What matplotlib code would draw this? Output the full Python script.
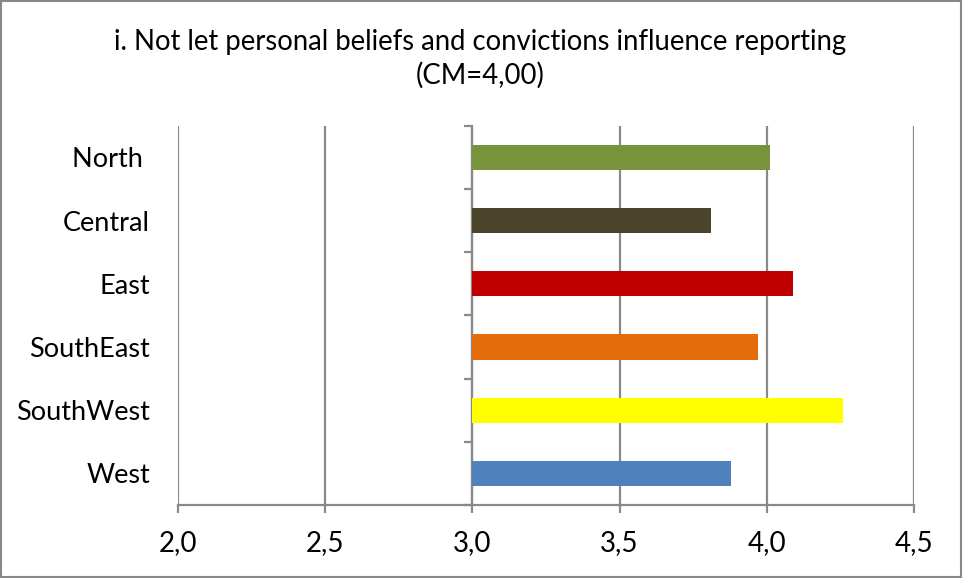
import numpy as np
import matplotlib.pyplot as plt
from matplotlib.patches import Rectangle

plt.rcParams['font.family'] = ['Lato', 'DejaVu Sans']

regions = ["North ", "Central", "East", "SouthEast", "SouthWest", "West"]
means = [4.01, 3.81, 4.09, 3.97, 4.26, 3.88]
colors = ["#77933C", "#4A452A", "#C00000", "#E46C0A", "#FFFF00", "#4F81BD"]
xticks = [2.0, 2.5, 3.0, 3.5, 4.0, 4.5]
title = "i. Not let personal beliefs and convictions influence reporting\n(CM=4,00)"
base = 3.0

fig = plt.figure(figsize=(9.63, 5.78), dpi=100)
ax = fig.add_axes([0.1848, 0.1263, 0.7643, 0.6562])

pos = np.arange(len(regions))[::-1]
ax.barh(pos, np.array(means) - base, left=base, height=0.4, color=colors, zorder=3)

grid_c = "#898989"
ax.set_xlim(2.0, 4.5)
ax.set_ylim(-0.5, len(regions) - 0.5)
ax.set_xticks(xticks)
ax.set_xticklabels([f"{t:.1f}".replace(".", ",") for t in xticks], fontsize=20)
ax.xaxis.grid(True, color=grid_c, linewidth=1.6, zorder=0)
ax.set_yticks(pos)
ax.set_yticklabels(regions, fontsize=19.5)
ax.tick_params(axis='y', length=0, pad=20)
ax.tick_params(axis='x', length=6, width=1.6, color=grid_c, pad=12)
for s in ['top', 'right', 'left']:
    ax.spines[s].set_visible(False)
ax.spines['bottom'].set_color(grid_c)
ax.spines['bottom'].set_linewidth(1.6)

# vertical category axis crossing at 3,0
sec = ax.secondary_yaxis((base - 2.0) / 2.5)
sec.set_yticks(np.arange(-0.5, len(regions), 1.0))
sec.set_yticklabels([])
sec.tick_params(length=6, width=1.6, color=grid_c)
sec.spines['left'].set_color(grid_c)
sec.spines['left'].set_linewidth(1.6)

fig.text(0.499, 0.898, title, ha='center', va='center', fontsize=19.8, linespacing=1.3)
fig.patches.append(Rectangle((0.001, 0.002), 0.997, 0.996, transform=fig.transFigure,
                             fill=False, edgecolor="#888888", linewidth=1.5))

fig.savefig("out.png", dpi=100)
